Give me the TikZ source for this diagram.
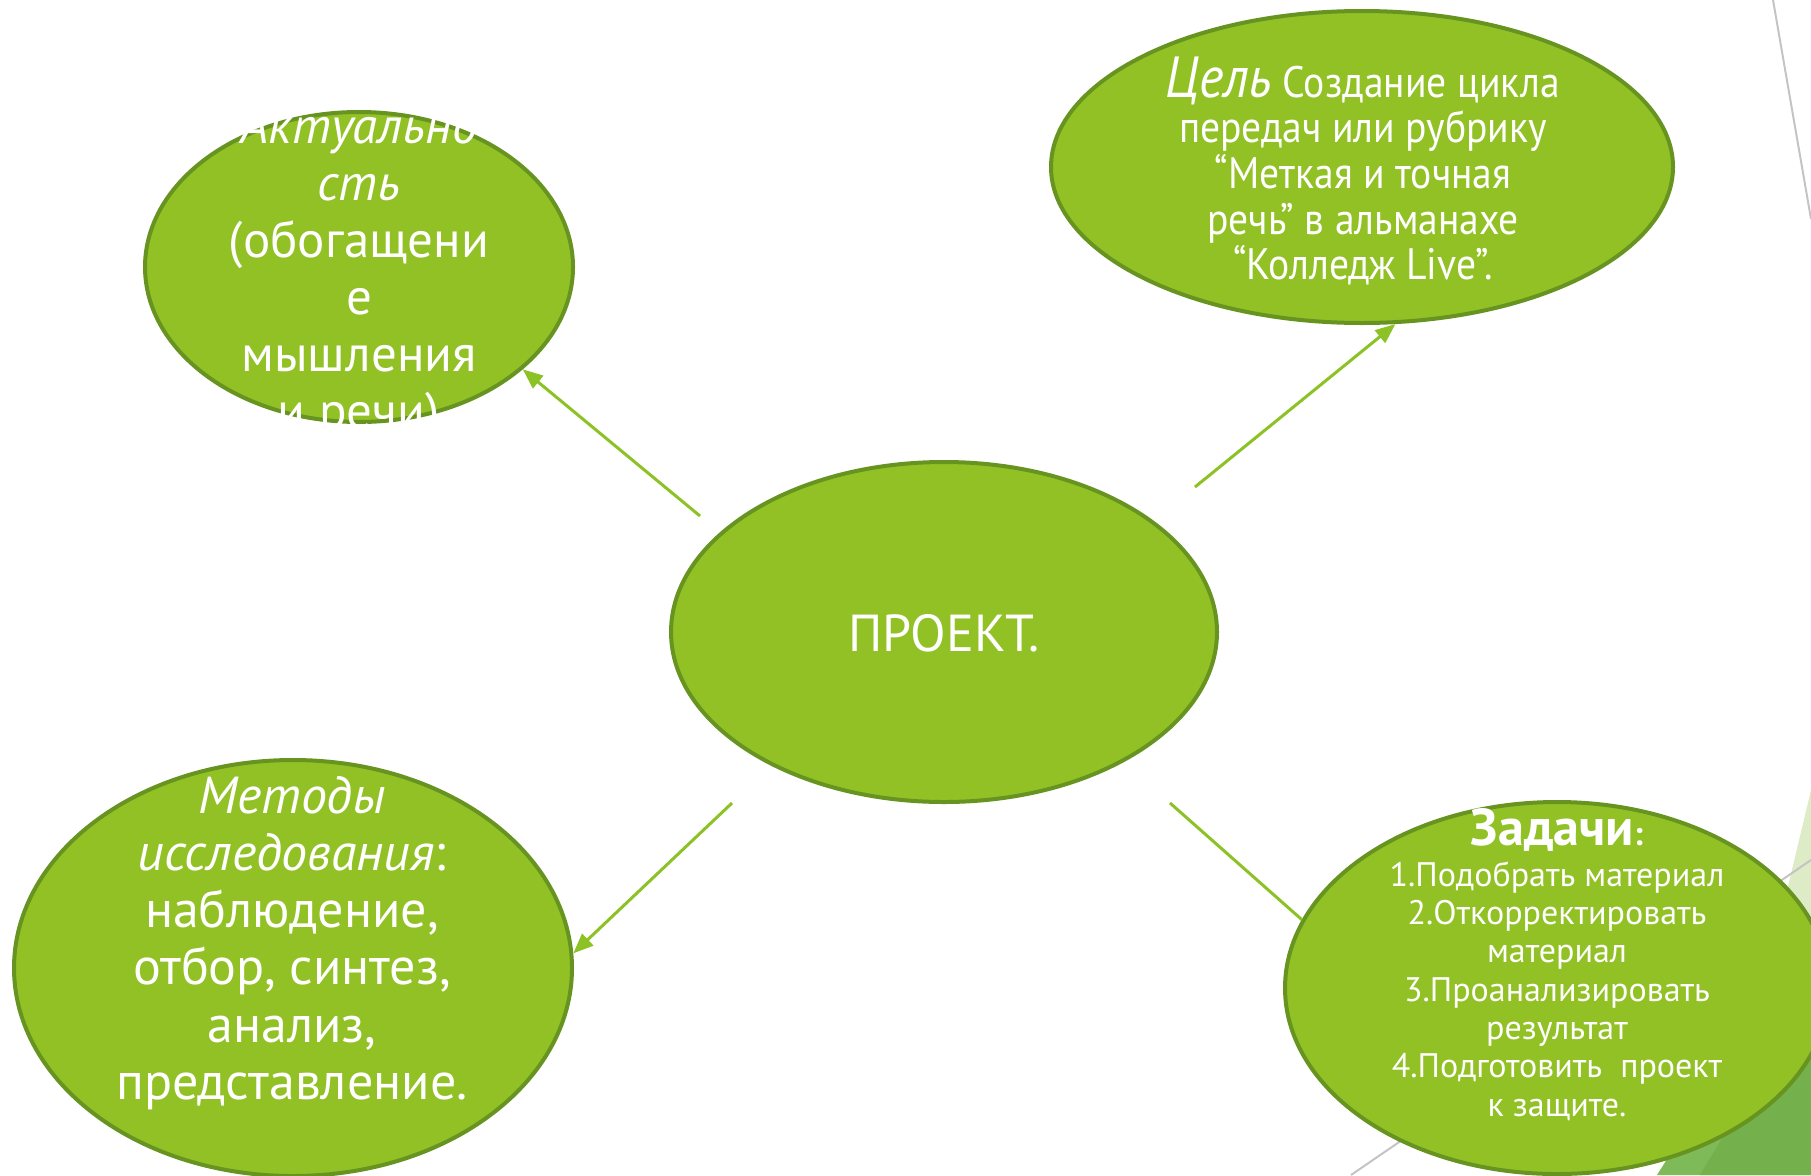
\documentclass[tikz,border=0pt]{standalone}
\usepackage{fontspec}
\setmainfont{PT Sans}
\newfontfamily\narrowfont[FakeStretch=0.9]{PT Sans}
\usetikzlibrary{shapes.geometric,arrows.meta}
\definecolor{leaf}{HTML}{92C126}
\definecolor{leafdark}{HTML}{679320}
\definecolor{arrowgreen}{HTML}{8CC225}
\definecolor{paleg}{HTML}{DDEBC6}
\definecolor{midg}{HTML}{7EBA58}
\definecolor{deepg}{HTML}{74B04B}
\definecolor{thingrey}{HTML}{C4C4C4}
\begin{document}
\begin{tikzpicture}[x=1pt,y=-1pt,
  bubble/.style={ellipse, fill=leaf, draw=leafdark, line width=4pt, inner sep=0pt},
  txt/.style={text=white, align=center, inner sep=0pt},
  link/.style={draw=arrowgreen, line width=3pt, -{Triangle[length=20pt,width=16pt]}},
  plainlink/.style={draw=arrowgreen, line width=3pt},
  deco/.style={draw=thingrey, line width=2pt}
]
\useasboundingbox (0,0) rectangle (1811,1175);
% background decoration (theme)
\fill[paleg] (1811,790) -- (1719,1175) -- (1811,1175) -- cycle;
\draw[deco] (1773,0) -- (1811,219);
\draw[deco] (1351,1175) -- (1811,860);
\fill[midg] (1811,930) -- (1657,1175) -- (1811,1175) -- cycle;
\fill[deepg] (1811,990) -- (1700,1175) -- (1811,1175) -- cycle;
% bubbles
\node[bubble, minimum width=546pt, minimum height=340pt] (proj) at (944,632) {};
\node[bubble, minimum width=428pt, minimum height=310pt] (tl) at (359,267) {};
\node[bubble, minimum width=622pt, minimum height=312pt] (tr) at (1362,167) {};
\node[bubble, minimum width=558pt, minimum height=416pt] (bl) at (293,968) {};
\node[bubble, minimum width=544pt, minimum height=372pt] (br) at (1557,988) {};
% connectors
\coordinate (s1) at (700,516);
\coordinate (s2) at (1195,487);
\coordinate (s3) at (732,803);
\coordinate (s4) at (1170,803);
\draw[link] (s1) -- (tl.-32);
\draw[link] (s2) -- (tr.-78);
\draw[link] (s3) -- (bl.3);
\draw[plainlink] (s4) -- (br.165);
% texts
\node[txt, font=\fontsize{52}{60}\selectfont] (projtext) at (944,633) {ПРОЕКТ.};
\node[txt, font=\fontsize{51}{57}\selectfont] (tltext) at (359,273)
  {\textit{Актуально}\\\textit{сть}\\(обогащени\\е\\мышления\\и речи)};
\node[txt, font=\narrowfont\fontsize{44}{45.7}\selectfont] (trtext) at (1363,171)
  {{\fontsize{58}{45.7}\selectfont\itshape Цель} Создание цикла\\передач или рубрику\\“Меткая и точная\\речь” в альманахе\\“Колледж Live”.};
\node[txt, font=\fontsize{52}{57.2}\selectfont] (bltext) at (292,943)
  {\textit{Методы}\\\textit{исследования}:\\наблюдение,\\отбор, синтез,\\анализ,\\представление.};
\node[txt, font=\bfseries, anchor=base] (brtitle) at (1557,845)
  {{\fontsize{52}{56}\selectfont Задачи}{\fontsize{34}{38}\selectfont :}};
\node[txt, font=\fontsize{34}{38.3}\selectfont] (brlist) at (1557,991)
  {1.Подобрать материал\\2.Откорректировать\\материал\\3.Проанализировать\\результат\\4.Подготовить\ \ проект\\к защите.};
\end{tikzpicture}
\end{document}
